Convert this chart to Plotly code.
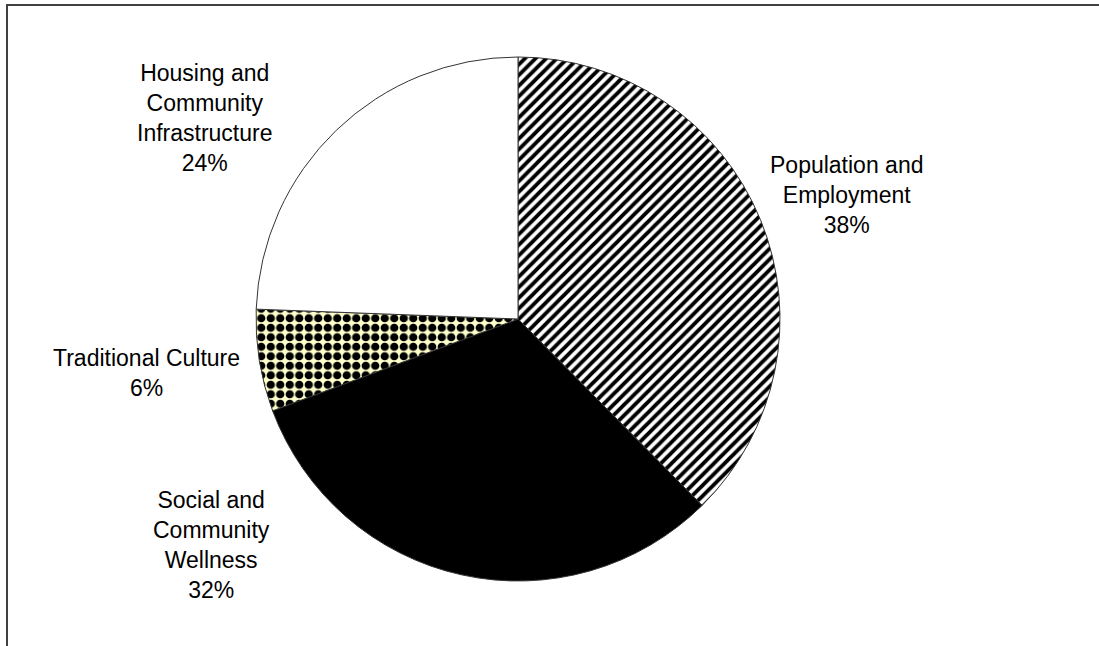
import plotly.graph_objects as go

# ---- data ----
categories = [
    "Population and<br>Employment",
    "Social and<br>Community<br>Wellness",
    "Traditional Culture",
    "Housing and<br>Community<br>Infrastructure",
]
values = [37.6, 31.7, 6.3, 24.4]

# ---- styles (kept separate from data) ----
W, H = 1099, 646
cx, cy, r = 518, 319, 262          # pie centre / radius in pixels (from top-left)
FONT = "Liberation Sans, Arial, sans-serif"
FS = 23

pattern = dict(
    shape=["/", "", ".", ""],
    fgcolor=["black", "black", "black", "white"],
    bgcolor=["white", "black", "#FFFFCC", "white"],
    size=[7.5, 8, 9.5, 8],
    solidity=[0.52, 0.5, 0.6, 0.5],
    fillmode="replace",
)
fills = ["white", "black", "#FFFFCC", "white"]

# label placement (pixel centre of each label block, from top-left)
label_pos = [(846, 195), (211, 545), (146, 373), (205, 118)]

fig = go.Figure(
    go.Pie(
        labels=categories,
        values=values,
        sort=False,
        direction="clockwise",
        rotation=0,
        textinfo="none",
        hoverinfo="skip",
        showlegend=False,
        marker=dict(
            colors=fills,
            pattern=pattern,
            line=dict(color="#333333", width=1),
        ),
        domain=dict(
            x=[(cx - r) / W, (cx + r) / W],
            y=[(H - cy - r) / H, (H - cy + r) / H],
        ),
    )
)

total = sum(values)
annotations = []
for lab, v, (px, py) in zip(categories, values, label_pos):
    annotations.append(
        dict(
            text=f"{lab}<br>{round(v / total * 100)}%",
            x=px / W,
            y=1 - py / H,
            xref="paper",
            yref="paper",
            xanchor="center",
            yanchor="middle",
            align="center",
            showarrow=False,
            font=dict(family=FONT, size=FS, color="black"),
        )
    )

fig.update_layout(
    width=W,
    height=H,
    margin=dict(l=0, r=0, t=0, b=0),
    paper_bgcolor="white",
    plot_bgcolor="white",
    annotations=annotations,
    shapes=[
        dict(
            type="rect",
            xref="paper",
            yref="paper",
            x0=7 / W,
            x1=1.2,
            y0=-0.2,
            y1=1 - 5 / H,
            line=dict(color="#404040", width=2),
            fillcolor="rgba(0,0,0,0)",
            layer="above",
        )
    ],
)

fig.write_html("out.html")
